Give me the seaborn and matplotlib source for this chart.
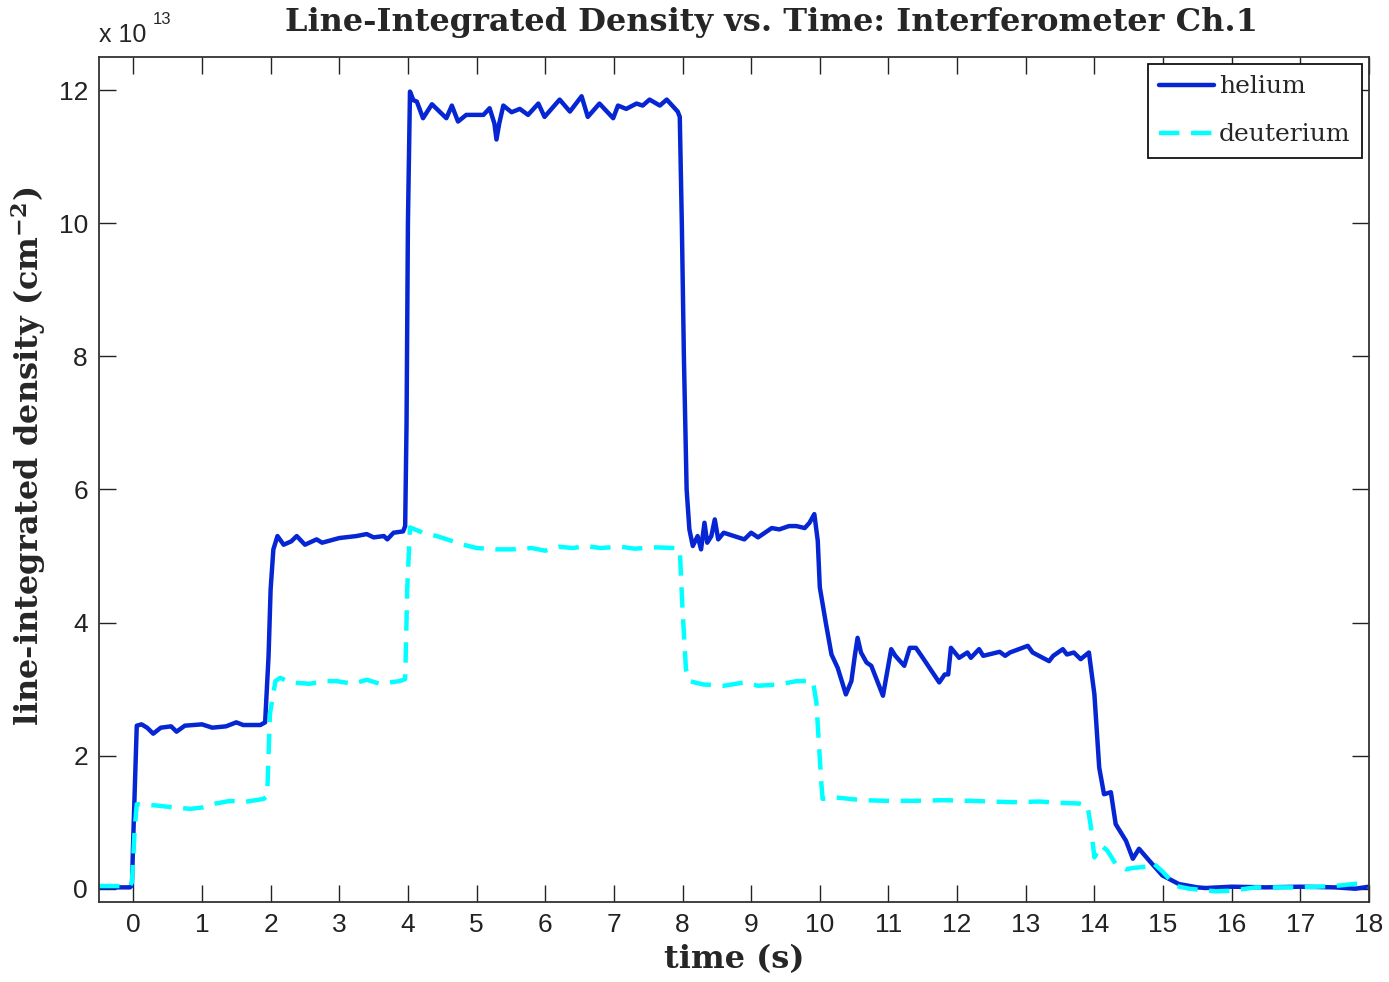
import matplotlib
matplotlib.use("Agg")
import matplotlib.pyplot as plt
import seaborn as sns
import pandas as pd
import numpy as np

# ---- data (line-integrated density in units of 1e13 cm^-2) ----
helium_t = [-0.5, -0.05, -0.02, 0.0, 0.03, 0.05, 0.12, 0.2, 0.29, 0.4, 0.55, 0.63, 0.75, 1.0, 1.15, 1.35,
            1.5, 1.6, 1.85, 1.92, 1.97, 2.0, 2.04, 2.1, 2.19, 2.3, 2.38, 2.5, 2.67, 2.75, 3.0, 3.25, 3.4,
            3.5, 3.65, 3.7, 3.79, 3.93, 3.96, 3.98, 4.0, 4.03, 4.08, 4.13, 4.22, 4.35, 4.56, 4.64, 4.73,
            4.85, 5.1, 5.19, 5.26, 5.29, 5.33, 5.39, 5.51, 5.63, 5.75, 5.9, 5.99, 6.21, 6.36, 6.53, 6.62,
            6.79, 6.99, 7.06, 7.18, 7.33, 7.42, 7.52, 7.67, 7.77, 7.93, 7.96, 7.99, 8.02, 8.06, 8.1, 8.15,
            8.22, 8.27, 8.32, 8.36, 8.42, 8.47, 8.52, 8.6, 8.75, 8.9, 9.0, 9.1, 9.2, 9.3, 9.41, 9.55, 9.66,
            9.78, 9.85, 9.92, 9.97, 10.0, 10.09, 10.17, 10.26, 10.38, 10.46, 10.51, 10.55, 10.6, 10.68,
            10.75, 10.92, 11.04, 11.1, 11.23, 11.31, 11.4, 11.5, 11.74, 11.82, 11.87, 11.91, 12.03, 12.15,
            12.2, 12.32, 12.38, 12.62, 12.7, 12.77, 13.03, 13.1, 13.34, 13.4, 13.54, 13.6, 13.7, 13.8,
            13.92, 14.0, 14.07, 14.14, 14.24, 14.31, 14.46, 14.56, 14.65, 14.8, 14.99, 15.23, 15.5, 15.62,
            16.0, 16.5, 17.0, 17.5, 17.8, 18.0]
helium_n = [0.02, 0.02, 0.05, 0.8, 1.8, 2.45, 2.47, 2.42, 2.33, 2.42, 2.44, 2.36, 2.45, 2.47, 2.42, 2.44,
            2.5, 2.46, 2.46, 2.5, 3.5, 4.5, 5.1, 5.3, 5.17, 5.22, 5.3, 5.17, 5.25, 5.2, 5.27, 5.3, 5.33,
            5.28, 5.3, 5.25, 5.35, 5.37, 5.45, 7.0, 10.0, 11.98, 11.85, 11.83, 11.58, 11.79, 11.58, 11.77,
            11.53, 11.63, 11.63, 11.73, 11.5, 11.26, 11.5, 11.77, 11.67, 11.72, 11.63, 11.8, 11.6, 11.86,
            11.68, 11.91, 11.6, 11.8, 11.58, 11.77, 11.72, 11.8, 11.77, 11.86, 11.77, 11.86, 11.68, 11.6,
            10.0, 8.0, 6.0, 5.4, 5.15, 5.3, 5.1, 5.5, 5.2, 5.3, 5.55, 5.25, 5.35, 5.3, 5.25, 5.35, 5.28,
            5.35, 5.42, 5.4, 5.45, 5.45, 5.42, 5.5, 5.63, 5.23, 4.53, 3.98, 3.52, 3.32, 2.92, 3.12, 3.5,
            3.77, 3.55, 3.40, 3.35, 2.90, 3.60, 3.5, 3.35, 3.62, 3.62, 3.47, 3.10, 3.22, 3.22, 3.62, 3.47,
            3.55, 3.47, 3.60, 3.5, 3.56, 3.5, 3.55, 3.65, 3.55, 3.42, 3.5, 3.60, 3.52, 3.55, 3.45, 3.55,
            2.92, 1.82, 1.42, 1.45, 0.97, 0.72, 0.45, 0.60, 0.42, 0.20, 0.07, 0.02, 0.01, 0.03, 0.02, 0.03,
            0.02, 0.0, 0.03]

deut_t = [-0.5, -0.05, -0.02, 0.02, 0.05, 0.34, 0.6, 0.83, 1.0, 1.2, 1.41, 1.6, 1.9, 1.95, 1.99, 2.07,
          2.14, 2.28, 2.57, 2.8, 2.96, 3.2, 3.4, 3.59, 3.88, 3.96, 3.99, 4.03, 4.22, 4.42, 4.81, 5.0, 5.3,
          5.5, 5.8, 6.0, 6.2, 6.4, 6.6, 6.8, 7.1, 7.3, 7.6, 7.9, 7.96, 8.0, 8.05, 8.1, 8.3, 8.6, 8.9, 9.1,
          9.41, 9.66, 9.9, 9.95, 10.02, 10.04, 10.24, 10.63, 11.0, 11.35, 11.8, 12.2, 12.81, 13.2, 13.5,
          13.78, 13.9, 13.95, 14.0, 14.1, 14.19, 14.31, 14.46, 14.55, 14.75, 14.84, 14.99, 15.19, 15.38,
          15.77, 16.0, 16.35, 17.0, 17.5, 17.86, 18.0]
deut_n = [0.04, 0.04, 0.1, 0.9, 1.27, 1.25, 1.22, 1.20, 1.22, 1.28, 1.32, 1.3, 1.35, 1.4, 2.63, 3.12,
          3.17, 3.10, 3.08, 3.12, 3.12, 3.08, 3.14, 3.08, 3.12, 3.15, 4.5, 5.43, 5.35, 5.30, 5.17, 5.12,
          5.1, 5.1, 5.12, 5.08, 5.14, 5.12, 5.15, 5.12, 5.14, 5.11, 5.13, 5.12, 5.1, 4.2, 3.3, 3.12,
          3.07, 3.05, 3.1, 3.05, 3.07, 3.12, 3.12, 2.8, 1.62, 1.35, 1.37, 1.33, 1.32, 1.32, 1.33, 1.32,
          1.30, 1.31, 1.29, 1.28, 1.25, 0.92, 0.47, 0.65, 0.57, 0.37, 0.29, 0.31, 0.33, 0.40, 0.26, 0.04,
          0.0, -0.04, -0.03, 0.02, 0.02, 0.04, 0.08, 0.03]

series_names = ["helium", "deuterium"]
x_ticks = list(range(0, 19))
y_ticks = [0, 2, 4, 6, 8, 10, 12]

# ---- build long-form table ----
df = pd.concat([
    pd.DataFrame({"t": helium_t, "n": helium_n, "gas": series_names[0]}),
    pd.DataFrame({"t": deut_t, "n": deut_n, "gas": series_names[1]}),
], ignore_index=True)

sns.set_theme(style="ticks")
plt.rcParams["font.family"] = ["Liberation Sans", "DejaVu Sans"]
plt.rcParams["mathtext.fontset"] = "dejavuserif"

W, H = 1389, 982
fig = plt.figure(figsize=(W / 100, H / 100), dpi=100)
ax = fig.add_axes([99 / W, 1 - 902 / H, (1369 - 99) / W, (902 - 57) / H])

palette = {"helium": "#0626d4", "deuterium": "#00ffff"}
dashes = {"helium": "", "deuterium": (4.6, 2.6)}
sns.lineplot(data=df, x="t", y="n", hue="gas", style="gas", palette=palette, dashes=dashes,
             estimator=None, sort=False, linewidth=3.2, ax=ax)

ax.set_xlim(-0.5, 18)
ax.set_ylim(-0.2, 12.5)
ax.set_xticks(x_ticks)
ax.set_xticklabels([str(v) for v in x_ticks])
ax.set_yticks(y_ticks)
ax.set_yticklabels([str(v) for v in y_ticks])
ax.tick_params(direction="in", top=True, right=True, length=12, width=1.0,
               labelsize=19, colors="#222222", pad=8)
for s in ax.spines.values():
    s.set_color("#333333")
    s.set_linewidth(1.3)

serif_b = ["DejaVu Serif"]

ax.set_xlabel("time (s)", fontsize=23, family=serif_b, fontweight="bold")
ax.set_ylabel(r"line-integrated density (cm$^{\mathbf{-2}}$)", fontsize=23, family=serif_b,
              fontweight="bold")
ax.xaxis.set_label_coords(0.5, -0.05)
ax.yaxis.set_label_coords(-0.04, 0.527)

fig.text(771 / W, 1 - 22 / H, "Line-Integrated Density vs. Time: Interferometer Ch.1",
         ha="center", va="center", fontsize=23, family=serif_b, fontweight="bold")

# exponent label
ax.text(0.0, 1.012, "x 10", transform=ax.transAxes, ha="left", va="bottom", fontsize=18)
ax.text(0.042, 1.035, "13", transform=ax.transAxes, ha="left", va="bottom", fontsize=12)

leg = ax.legend(loc="upper right", prop={"family": "DejaVu Serif", "size": 18},
                frameon=True, fancybox=False, edgecolor="#111111", framealpha=1,
                handlelength=2.2, handletextpad=0.2, borderpad=0.45, labelspacing=1.0,
                borderaxespad=0.28)
leg.get_frame().set_linewidth(1.3)

fig.savefig("out.png", dpi=100)
